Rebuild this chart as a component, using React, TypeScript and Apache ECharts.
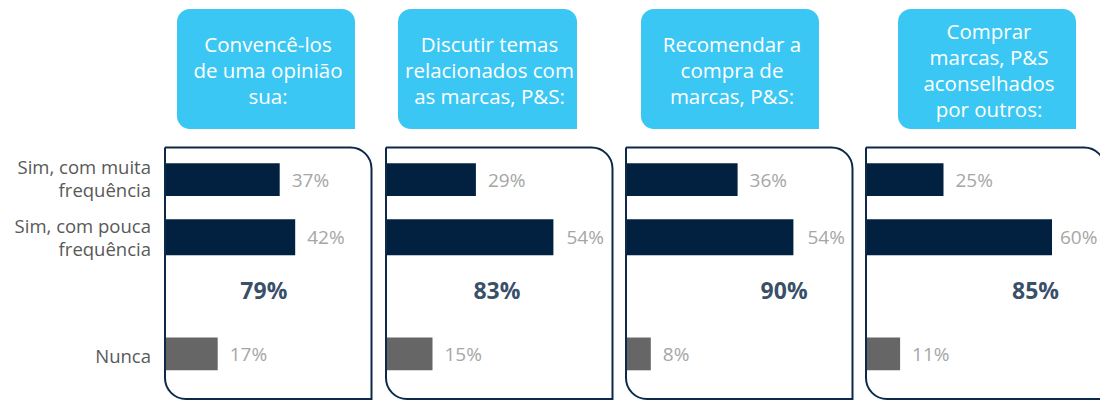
import React, { useEffect, useRef } from "react";
import * as echarts from "echarts";

const categories = ["Sim, com muita\nfrequência", "Sim, com pouca\nfrequência", "Nunca"];
const headers = [
  "Convencê-los\nde uma opinião\nsua:",
  "Discutir temas\nrelacionados com\nas marcas, P&S:",
  "Recomendar a\ncompra de\nmarcas, P&S:",
  "Comprar\nmarcas, P&S\naconselhados\npor outros:",
];
const muita = [37, 29, 36, 25];
const pouca = [42, 54, 54, 60];
const nunca = [17, 15, 8, 11];
const totals = [79, 83, 90, 85];

// layout (pixels / value units)
const totalPos = [31.9, 35.8, 51, 54.7];
const panelLeft = [165, 386, 626, 866];
const panelRight = [371.5, 612.5, 852.5, 1105];
const headerLeft = [177, 398, 641, 898];
const headerRight = [355, 577, 819, 1076];
const labelGap = [
  [12, 12, 12],
  [12, 13, 12],
  [12, 14, 12],
  [12, 8, 12],
];

const NAVY = "#02203F";
const BORDER = "#0E2849";
const GREY = "#666666";
const LABEL = "#A6A6A6";
const CYAN = "#3BC7F4";
const FONT = "'Open Sans', 'Noto Sans', sans-serif";

const slots = [categories[0], "_g1", categories[1], "_g2", "_total", "_g3", categories[2]];
const PX_PER = 3.1;
const GRID_W = 200;

export default function App() {
  const ref = useRef<HTMLDivElement>(null);
  useEffect(() => {
    const chart = echarts.init(ref.current!, undefined, { renderer: "svg" });
    const grids: any[] = [];
    const xAxes: any[] = [];
    const yAxes: any[] = [];
    const series: any[] = [];
    const graphics: any[] = [];
    for (let i = 0; i < 4; i++) {
      grids.push({ left: panelLeft[i], top: 163.3, width: GRID_W, height: 207 });
      xAxes.push({
        gridIndex: i,
        type: "value",
        min: 0,
        max: GRID_W / PX_PER,
        show: false,
      });
      yAxes.push({
        gridIndex: i,
        type: "category",
        inverse: true,
        data: slots,
        axisLine: { show: false },
        axisTick: { show: false },
        splitLine: { show: false },
        axisLabel: {
          show: i === 0,
          margin: 14,
          color: "#595959",
          fontSize: 18.5,
          lineHeight: 23,
          fontFamily: FONT,
          padding: [0, 0, 13, 0],
          formatter: (v: string) => (v.startsWith("_") ? "" : v),
        },
      });
      const data = slots.map((s) => {
        if (s === categories[0])
          return { value: muita[i], itemStyle: { color: NAVY }, label: { distance: labelGap[i][0] } };
        if (s === categories[1])
          return { value: pouca[i], itemStyle: { color: NAVY }, label: { distance: labelGap[i][1] } };
        if (s === categories[2])
          return { value: nunca[i], itemStyle: { color: GREY }, label: { distance: labelGap[i][2] } };
        return "-";
      });
      series.push({
        type: "bar",
        xAxisIndex: i,
        yAxisIndex: i,
        barWidth: 36,
        data,
        label: {
          show: true,
          position: "right",
          distance: 12,
          color: LABEL,
          fontSize: 19,
          fontFamily: FONT,
          formatter: "{c}%",
        },
      });
      series.push({
        type: "scatter",
        xAxisIndex: i,
        yAxisIndex: i,
        symbolSize: 1,
        itemStyle: { color: "transparent" },
        data: [{ value: [totalPos[i], 4], name: String(totals[i]) }],
        label: {
          show: true,
          position: "inside",
          offset: [0, -6],
          color: NAVY,
          fontSize: 23,
          fontWeight: "bold",
          fontFamily: FONT,
          formatter: totals[i] + "%",
        },
      });
      graphics.push({
        type: "rect",
        shape: {
          x: panelLeft[i],
          y: 147.5,
          width: panelRight[i] - panelLeft[i],
          height: 251.5,
          r: [0, 21, 0, 21],
        },
        style: { fill: "none", stroke: BORDER, lineWidth: 2 },
        z: 10,
      });
      const hw = headerRight[i] - headerLeft[i];
      graphics.push({
        type: "rect",
        shape: { x: headerLeft[i], y: 9, width: hw, height: 120, r: [13, 13, 0, 13] },
        style: { fill: CYAN },
      });
      graphics.push({
        type: "text",
        x: headerLeft[i] + hw / 2 + 2,
        y: 70,
        style: {
          text: headers[i],
          fill: "#ffffff",
          fontSize: 20.5,
          fontFamily: FONT,
          lineHeight: 26,
          align: "center",
          verticalAlign: "middle",
        },
      });
    }
    chart.setOption({
      animation: false,
      grid: grids,
      xAxis: xAxes,
      yAxis: yAxes,
      series,
      graphic: graphics,
    });
    return () => chart.dispose();
  }, []);
  return (
    <div
      ref={ref}
      style={{ position: "fixed", left: 0, top: 0, width: 1100, height: 400, background: "#fff" }}
    />
  );
}
